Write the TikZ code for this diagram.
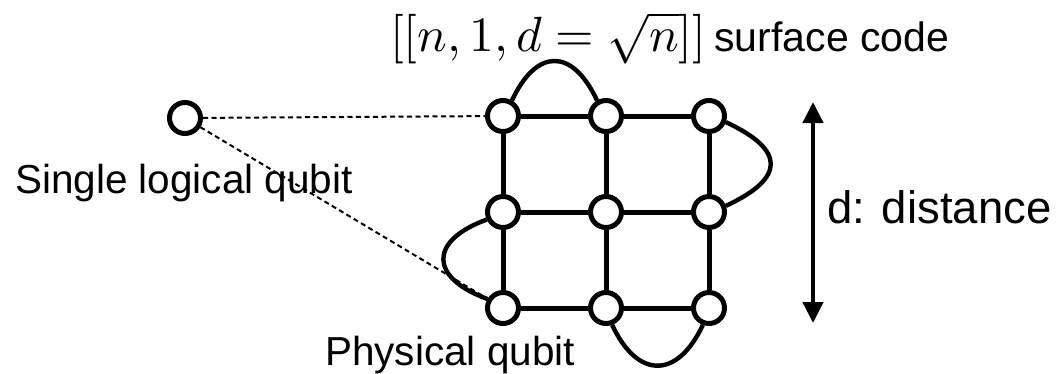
\documentclass[tikz,border=0pt]{standalone}
\usepackage{graphicx}
\usepackage{fontspec}
\setsansfont{Liberation Sans}
\usepackage{tikz}
\usetikzlibrary{arrows.meta,positioning}

\begin{document}
\begin{tikzpicture}[
  x=1pt,y=1pt,
  qubit/.style={circle,draw,line width=5pt,fill=white,minimum size=31pt,inner sep=0pt},
  edge/.style={line width=5pt},
  wrap/.style={line width=4.4pt},
  link/.style={line width=2pt,dash pattern=on 5pt off 3.5pt},
  lbl/.style={inner sep=0pt,font=\sffamily\fontsize{40.5}{44}\selectfont},
  distlbl/.style={inner sep=0pt,font=\sffamily\fontsize{45.5}{50}\selectfont},
  dimarrow/.style={line width=4.5pt,<->,>={Triangle[width=20pt,length=21pt]}}
]
\useasboundingbox (0,0) rectangle (1057,373);
\fill[white] (0,0) rectangle (1057,373);
\foreach \r/\y in {1/257,2/161,3/65}
  \foreach \c/\x in {1/503,2/606,3/709}
    \node[qubit] (q\r\c) at (\x,\y) {};
\foreach \r in {1,2,3}
  \foreach \a/\b in {1/2,2/3} {
    \draw[edge] (q\r\a) -- (q\r\b);
    \draw[edge] (q\a\r) -- (q\b\r);
  }
% wrap-around links
\draw[wrap] (q11.60) .. controls +(65:58pt) and +(115:58pt) .. (q12.120);
\draw[wrap] (q13.-20) .. controls +(-25:66pt) and +(25:66pt) .. (q23.20);
\draw[wrap] (q21.205) .. controls +(200:62pt) and +(160:62pt) .. (q31.150);
\draw[wrap] (q32.-70) .. controls +(-65:60pt) and +(-115:60pt) .. (q33.-110);
\node[qubit] (lq) at (185,255) {};
\node[lbl,anchor=base] (lqlabel) at (184,180) {Single logical qubit};
\node[lbl,anchor=base] (pqlabel) at (450,8) {Physical qubit};
\node[anchor=base west,inner sep=0pt] (title) at (390,321)
  {\scalebox{4.95}{$[[n,1,d=\sqrt{n}]]$}\hspace{8pt}{\sffamily\fontsize{41}{45}\selectfont surface code}};
\draw[link] (lq) -- (q11);
\draw[link] (lq) -- (q31);
\coordinate (dtop) at (813,271);
\coordinate (dbot) at (813,50);
\draw[dimarrow] (dtop) -- (dbot);
\node[distlbl,anchor=base west] (dist) at (827,150) {d: distance};
\end{tikzpicture}
\end{document}
